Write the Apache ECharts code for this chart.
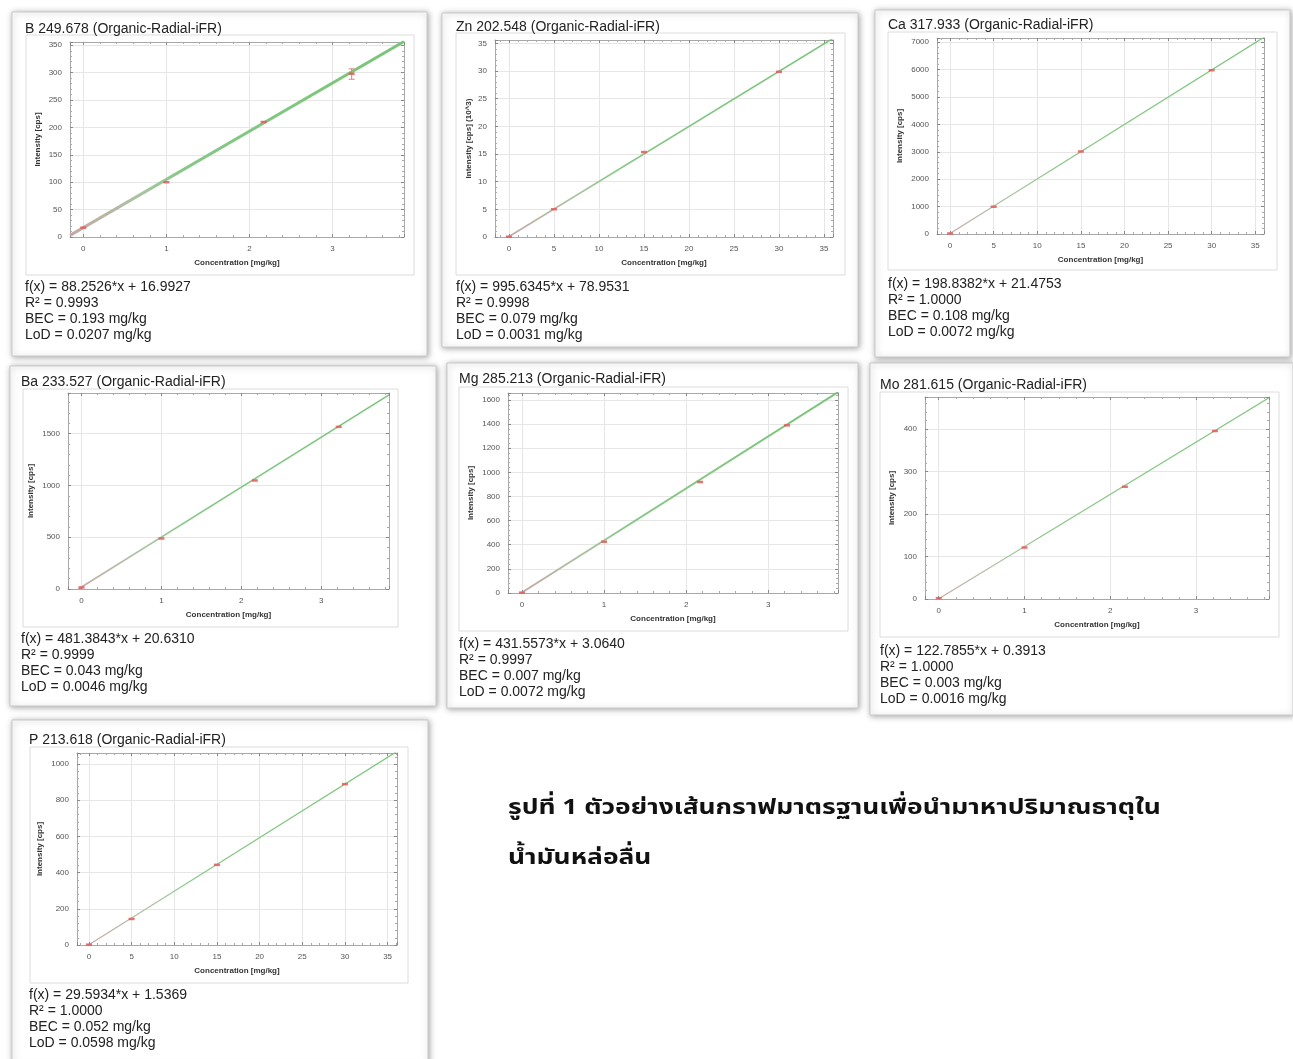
<!DOCTYPE html>
<html><head><meta charset="utf-8">
<script src="https://cdn.jsdelivr.net/npm/echarts@6/dist/echarts.min.js"></script>
<style>html,body{margin:0;padding:0;background:#fff}#c{width:1293px;height:1059px}</style>
</head><body><div id="c"></div><script>
// ---------- DATA ----------
// B 249.678
const bConc = [0, 1, 2.17, 3.23];
const bIntensity = [17, 100, 210, 298];
const bFitX = [-0.16, 3.86];
const bFitY = [3, 357];
const bErrX = [3.23, 3.23];
const bErrY = [288, 307];
const bXRange = [-0.16, 3.86];
const bYRange = [0, 356];
const bSteps = [1, 50];
const bStats = ['f(x) = 88.2526*x + 16.9927', 'R\u00B2 = 0.9993', 'BEC = 0.193 mg/kg', 'LoD = 0.0207 mg/kg'];

// Zn 202.548  (intensity in 10^3 cps)
const znConc = [0, 5, 15, 30];
const znIntensity = [0.05, 5.02, 15.35, 29.86];
const znFitX = [-0.08, 36];
const znFitY = [0, 35.9];
const znXRange = [-1.55, 36];
const znYRange = [0, 35.6];
const znSteps = [5, 5];
const znStats = ['f(x) = 995.6345*x + 78.9531', 'R\u00B2 = 0.9998', 'BEC = 0.079 mg/kg', 'LoD = 0.0031 mg/kg'];

// Ca 317.933
const caConc = [0, 5, 15, 30];
const caIntensity = [20, 995, 3010, 5975];
const caFitX = [-0.11, 36];
const caFitY = [0, 7180];
const caXRange = [-1.5, 36];
const caYRange = [0, 7150];
const caSteps = [5, 1000];
const caStats = ['f(x) = 198.8382*x + 21.4753', 'R\u00B2 = 1.0000', 'BEC = 0.108 mg/kg', 'LoD = 0.0072 mg/kg'];

// Ba 233.527
const baConc = [0, 1, 2.17, 3.22];
const baIntensity = [15, 488, 1048, 1566];
const baFitX = [-0.04, 3.85];
const baFitY = [0, 1874];
const baXRange = [-0.17, 3.85];
const baYRange = [0, 1893];
const baSteps = [1, 500];
const baStats = ['f(x) = 481.3843*x + 20.6310', 'R\u00B2 = 0.9999', 'BEC = 0.043 mg/kg', 'LoD = 0.0046 mg/kg'];

// Mg 285.213
const mgConc = [0, 1, 2.17, 3.23];
const mgIntensity = [3, 425, 920, 1390];
const mgFitX = [-0.01, 3.85];
const mgFitY = [0, 1665];
const mgXRange = [-0.17, 3.85];
const mgYRange = [0, 1658];
const mgSteps = [1, 200];
const mgStats = ['f(x) = 431.5573*x + 3.0640', 'R\u00B2 = 0.9997', 'BEC = 0.007 mg/kg', 'LoD = 0.0072 mg/kg'];

// Mo 281.615
const moConc = [0, 1, 2.17, 3.22];
const moIntensity = [2, 121, 264, 395];
const moFitX = [0, 3.85];
const moFitY = [0.4, 473];
const moXRange = [-0.16, 3.85];
const moYRange = [0, 475];
const moSteps = [1, 100];
const moStats = ['f(x) = 122.7855*x + 0.3913', 'R\u00B2 = 1.0000', 'BEC = 0.003 mg/kg', 'LoD = 0.0016 mg/kg'];

// P 213.618
const pConc = [0, 5, 15, 30];
const pIntensity = [2, 144, 443, 889];
const pFitX = [-0.05, 36];
const pFitY = [0, 1067];
const pXRange = [-1.4, 36.1];
const pYRange = [0, 1061];
const pSteps = [5, 200];
const pStats = ['f(x) = 29.5934*x + 1.5369', 'R\u00B2 = 1.0000', 'BEC = 0.052 mg/kg', 'LoD = 0.0598 mg/kg'];

const captionLines = ['\u0E23\u0E39\u0E1B\u0E17\u0E35\u0E48 1 \u0E15\u0E31\u0E27\u0E2D\u0E22\u0E48\u0E32\u0E07\u0E40\u0E2A\u0E49\u0E19\u0E01\u0E23\u0E32\u0E1F\u0E21\u0E32\u0E15\u0E23\u0E10\u0E32\u0E19\u0E40\u0E1E\u0E37\u0E48\u0E2D\u0E19\u0E33\u0E21\u0E32\u0E2B\u0E32\u0E1B\u0E23\u0E34\u0E21\u0E32\u0E13\u0E18\u0E32\u0E15\u0E38\u0E43\u0E19', '\u0E19\u0E49\u0E33\u0E21\u0E31\u0E19\u0E2B\u0E25\u0E48\u0E2D\u0E25\u0E37\u0E48\u0E19'];

const xName = 'Concentration [mg/kg]';

// ---------- PANELS ----------
const panels = [
  {title:'B 249.678 (Organic-Radial-iFR)', x:bConc, y:bIntensity, fx:bFitX, fy:bFitY, xr:bXRange, yr:bYRange, st:bSteps, stats:bStats, yName:'Intensity [cps]', ex:bErrX, ey:bErrY},
  {title:'Zn 202.548 (Organic-Radial-iFR)', x:znConc, y:znIntensity, fx:znFitX, fy:znFitY, xr:znXRange, yr:znYRange, st:znSteps, stats:znStats, yName:'Intensity [cps] (10^3)'},
  {title:'Ca 317.933 (Organic-Radial-iFR)', x:caConc, y:caIntensity, fx:caFitX, fy:caFitY, xr:caXRange, yr:caYRange, st:caSteps, stats:caStats, yName:'Intensity [cps]'},
  {title:'Ba 233.527 (Organic-Radial-iFR)', x:baConc, y:baIntensity, fx:baFitX, fy:baFitY, xr:baXRange, yr:baYRange, st:baSteps, stats:baStats, yName:'Intensity [cps]'},
  {title:'Mg 285.213 (Organic-Radial-iFR)', x:mgConc, y:mgIntensity, fx:mgFitX, fy:mgFitY, xr:mgXRange, yr:mgYRange, st:mgSteps, stats:mgStats, yName:'Intensity [cps]'},
  {title:'Mo 281.615 (Organic-Radial-iFR)', x:moConc, y:moIntensity, fx:moFitX, fy:moFitY, xr:moXRange, yr:moYRange, st:moSteps, stats:moStats, yName:'Intensity [cps]'},
  {title:'P 213.618 (Organic-Radial-iFR)', x:pConc, y:pIntensity, fx:pFitX, fy:pFitY, xr:pXRange, yr:pYRange, st:pSteps, stats:pStats, yName:'Intensity [cps]'}
];

// layout: box = outer panel, frame = chart frame, grid = plot area, title/stats = text anchors
const layout = [
  {box:[12,12,415,344], frame:[26,35,388,240], grid:[70,42,334,195], title:[25,29], stats:[25,287], yGap:28, lw:3},
  {box:[442,13,416,334], frame:[456,33,389,242], grid:[495,40,338,197], title:[456,27], stats:[456,287], yGap:22, lw:1.6},
  {box:[875,10,415,347], frame:[888,32,389,238], grid:[937,38,327,196], title:[888,25], stats:[888,284], yGap:33, lw:1.2},
  {box:[10,366,426,340], frame:[23,389,375,238], grid:[68,393,321,196], title:[21,382], stats:[21,639], yGap:33, lw:1.5},
  {box:[447,363,411,345], frame:[459,387,389,244], grid:[508,393,330,200], title:[459,379], stats:[459,644], yGap:33, lw:2},
  {box:[870,363,423,352], frame:[880,392,399,245], grid:[925,397,344,202], title:[880,385], stats:[880,651], yGap:29, lw:1.2},
  {box:[12,720,416,345], frame:[30,747,378,236], grid:[77,753,320,192], title:[29,740], stats:[29,995], yGap:33, lw:1.2}
];

const FONT = '"Liberation Sans", Arial, sans-serif';
function fmt(step) {
  return function (v) {
    const r = v / step;
    if (Math.abs(r - Math.round(r)) < 1e-6) return String(Math.round(r) * step);
    return '';
  };
}
function zip(a, b) { return a.map((v, i) => [v, b[i]]); }

const grids = [], xAxes = [], yAxes = [], series = [], graphics = [];
const frameColor = '#a8a8a8';

panels.forEach((p, i) => {
  const L = layout[i];
  grids.push({left: L.grid[0], top: L.grid[1], width: L.grid[2], height: L.grid[3], containLabel: false});
  const xSplit = Math.max(1, Math.round((p.xr[1] - p.xr[0]) / p.st[0]));
  const ySplit = Math.max(1, Math.round((p.yr[1] - p.yr[0]) / p.st[1]));
  const baseX = {
    type: 'value', gridIndex: i, min: p.xr[0], max: p.xr[1], splitNumber: xSplit,
    minInterval: p.st[0], maxInterval: p.st[0],
    axisLine: {show: true, onZero: false, lineStyle: {color: frameColor, width: 1}},
    axisTick: {show: true, inside: true, length: 3, lineStyle: {color: '#888'}},
    minorTick: {show: true, splitNumber: 5, length: 2, lineStyle: {color: '#aaa'}}
  };
  const baseY = {
    type: 'value', gridIndex: i, min: p.yr[0], max: p.yr[1], splitNumber: ySplit,
    minInterval: p.st[1], maxInterval: p.st[1],
    axisLine: {show: true, onZero: false, lineStyle: {color: frameColor, width: 1}},
    axisTick: {show: true, inside: true, length: 3, lineStyle: {color: '#888'}},
    minorTick: {show: true, splitNumber: 5, length: 2, lineStyle: {color: '#aaa'}}
  };
  xAxes.push(Object.assign({}, baseX, {
    position: 'bottom',
    name: xName, nameLocation: 'middle', nameGap: 22,
    nameTextStyle: {fontFamily: FONT, fontSize: 8, fontWeight: 'bold', color: '#333'},
    axisLabel: {show: true, margin: 8, fontFamily: FONT, fontSize: 8, color: '#555', formatter: fmt(p.st[0]), showMinLabel: true, showMaxLabel: true, hideOverlap: false},
    splitLine: {show: true, lineStyle: {color: '#e6e6e6', width: 1}}
  }));
  xAxes.push(Object.assign({}, baseX, {
    position: 'top', axisLabel: {show: false}, splitLine: {show: false}
  }));
  yAxes.push(Object.assign({}, baseY, {
    position: 'left',
    name: p.yName, nameLocation: 'middle', nameGap: L.yGap, nameRotate: 90,
    nameTextStyle: {fontFamily: FONT, fontSize: 8, fontWeight: 'bold', color: '#333'},
    axisLabel: {show: true, margin: 8, fontFamily: FONT, fontSize: 8, color: '#555', formatter: fmt(p.st[1]), showMinLabel: true, showMaxLabel: true, hideOverlap: false},
    splitLine: {show: true, lineStyle: {color: '#e6e6e6', width: 1}}
  }));
  yAxes.push(Object.assign({}, baseY, {
    position: 'right', axisLabel: {show: false}, splitLine: {show: false}
  }));

  const xi = 2 * i, yi = 2 * i;
  series.push({
    type: 'line', xAxisIndex: xi, yAxisIndex: yi, data: zip(p.fx, p.fy), symbol: 'none', clip: true,
    silent: true, animation: false, z: 3,
    lineStyle: {width: L.lw, color: {type: 'linear', x: 0, y: 0, x2: 1, y2: 0, colorStops: [
      {offset: 0, color: '#c6a8a8'}, {offset: 0.22, color: '#a8c4a0'}, {offset: 0.35, color: '#86c886'}, {offset: 1, color: '#78c478'}]}}
  });
  if (p.ex) {
    series.push({
      type: 'line', xAxisIndex: xi, yAxisIndex: yi, data: zip(p.ex, p.ey), symbol: 'rect', symbolSize: [6, 1],
      silent: true, animation: false, z: 4, itemStyle: {color: '#e08080'},
      lineStyle: {width: 1, color: '#e08080'}
    });
  }
  series.push({
    type: 'scatter', xAxisIndex: xi, yAxisIndex: yi, data: zip(p.x, p.y), symbol: 'rect', symbolSize: [6, 2.5],
    silent: true, animation: false, z: 5, itemStyle: {color: '#e25a5a', opacity: 0.85}
  });

  // panel box, frame, title, stats
  graphics.push({type: 'rect', z: -20, silent: true,
    shape: {x: L.box[0], y: L.box[1], width: L.box[2], height: L.box[3]},
    style: {fill: '#fff', stroke: '#c9c9c9', lineWidth: 1, shadowBlur: 6, shadowColor: 'rgba(0,0,0,0.35)', shadowOffsetX: 1, shadowOffsetY: 1}});
  graphics.push({type: 'rect', z: -19, silent: true,
    shape: {x: L.frame[0], y: L.frame[1], width: L.frame[2], height: L.frame[3]},
    style: {fill: '#fff', stroke: '#dcdcdc', lineWidth: 1}});
  graphics.push({type: 'text', z: 10, silent: true, x: L.title[0], y: L.title[1],
    style: {text: p.title, fontFamily: FONT, fontSize: 14, fill: '#222', verticalAlign: 'middle', align: 'left'}});
  p.stats.forEach((s, k) => {
    graphics.push({type: 'text', z: 10, silent: true, x: L.stats[0], y: L.stats[1] + k * 16.2,
      style: {text: s, fontFamily: FONT, fontSize: 14, fill: '#222', verticalAlign: 'middle', align: 'left'}});
  });
});

captionLines.forEach((t, k) => {
  graphics.push({type: 'text', z: 10, silent: true, x: 508, y: 810 + k * 50, scaleX: 1.2,
    style: {text: t, fontFamily: '"Noto Sans Thai", "Noto Sans Thai UI", Loma, Garuda, "Tlwg Typo", Tahoma, sans-serif', fontSize: 22, fontWeight: 'bold', fill: '#111', verticalAlign: 'middle', align: 'left'}});
});

const chart = echarts.init(document.getElementById('c'), null, {renderer: 'canvas'});
chart.setOption({
  animation: false,
  backgroundColor: '#fff',
  grid: grids,
  xAxis: xAxes,
  yAxis: yAxes,
  series: series,
  graphic: {elements: graphics}
});
</script></body></html>
